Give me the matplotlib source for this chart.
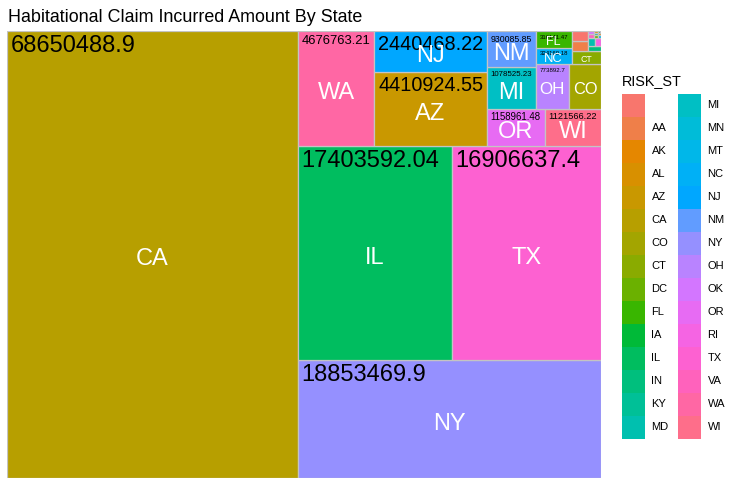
import numpy as np
import matplotlib
matplotlib.use("Agg")
import matplotlib.pyplot as plt
from matplotlib.patches import Rectangle

plt.rcParams['font.family'] = ['Liberation Sans', 'DejaVu Sans']

# ---------------- data ----------------
title = "Habitational Claim Incurred Amount By State"
legend_title = "RISK_ST"

levels = ["", "AA", "AK", "AL", "AZ", "CA", "CO", "CT", "DC", "FL", "IA", "IL",
          "IN", "KY", "MD", "MI", "MN", "MT", "NC", "NJ", "NM", "NY", "OH", "OK",
          "OR", "RI", "TX", "VA", "WA", "WI"]

states = ["CA", "NY", "IL", "TX", "WA", "AZ", "NJ", "OR", "WI", "MI", "NM", "OH",
          "CO", "NC", "FL", "CT", "AA", "", "IN", "MD", "RI", "VA", "OK", "DC",
          "MT", "KY", "AL", "AK", "IA", "MN"]
values = [68650488.9, 18853469.9, 17403592.04, 16906637.4, 4676763.21, 4410924.55,
          2440468.22, 1158961.48, 1121566.22, 1078525.23, 930085.85, 773892.7,
          751402.36, 324160.18, 316141.47, 214133.58, 88012.45, 84031.27, 33017.62,
          27512.9, 25008.31, 10004.5, 8002.75, 6001.2, 5003.4, 4501.6, 3502.8,
          3001.45, 2500.35, 1500.6]

# ---------------- helpers ----------------
def hcl(h, c=100.0, l=65.0):
    hr = np.deg2rad(h)
    U, V = c * np.cos(hr), c * np.sin(hr)
    Y = ((l + 16) / 116) ** 3
    un, vn = 0.1978398, 0.4683363
    u = U / (13 * l) + un
    v = V / (13 * l) + vn
    X = 9.0 * Y * u / (4 * v)
    Z = -X / 3 - 5 * Y + 3 * Y / v
    rgb = np.array([3.240479 * X - 1.537150 * Y - 0.498535 * Z,
                    -0.969256 * X + 1.875992 * Y + 0.041556 * Z,
                    0.055648 * X - 0.204043 * Y + 1.057311 * Z])
    rgb = np.where(rgb > 0.00304, 1.055 * np.abs(rgb) ** (1 / 2.4) - 0.055, 12.92 * rgb)
    return tuple(np.clip(rgb, 0, 1))

n = len(levels)
hues = np.linspace(15, 375, n + 1)[:-1]
palette = {lev: hcl(h) for lev, h in zip(levels, hues)}


def worst(row, side):
    s = sum(row)
    return max(side * side * max(row) / (s * s), (s * s) / (side * side * min(row)))


def squarify(vals, x, y, w, h):
    tot = sum(vals)
    vals = [v / tot * w * h for v in vals]
    rects = []
    while vals:
        side = min(w, h)
        row = [vals[0]]
        i = 1
        while i < len(vals) and worst(row + [vals[i]], side) <= worst(row, side):
            row.append(vals[i])
            i += 1
        vals = vals[i:]
        s = sum(row)
        if w >= h:
            cw = s / h
            yy = y
            for v in row:
                rh = v / cw
                rects.append((x, yy, cw, rh))
                yy += rh
            x += cw
            w -= cw
        else:
            rh = s / w
            xx = x
            for v in row:
                rw = v / rh
                rects.append((xx, y, rw, rh))
                xx += rw
            y += rh
            h -= rh
    return rects


def fmt(v):
    return ('%.2f' % v).rstrip('0').rstrip('.')

# ---------------- figure ----------------
W, H, DPI = 741, 486, 100
fig = plt.figure(figsize=(W / DPI, H / DPI), dpi=DPI)
pl, pr, pt, pb = 7, 601, 31, 478
ax = fig.add_axes([pl / W, 1 - pb / H, (pr - pl) / W, (pb - pt) / H])
ax.set_xlim(0, 1)
ax.set_ylim(0, 1)
ax.axis('off')

order = np.argsort(-np.array(values), kind='stable')
s_states = [states[i] for i in order]
s_vals = [values[i] for i in order]
rects = squarify(s_vals, 0.0, 0.0, 1.0, 1.0)

for st, (x, y, w, h) in zip(s_states, rects):
    ax.add_patch(Rectangle((x, y), w, h, facecolor=palette[st],
                           edgecolor='#C4C4C4', linewidth=0.9))

renderer = fig.canvas.get_renderer()
BASE = 17.0
PAD = 3.8
MINPX = 5.3


def text_w(s, fs):
    t = fig.text(0, 0, s, fontsize=fs)
    bb = t.get_window_extent(renderer)
    t.remove()
    return bb.width


def fit(s, wpx, hpx):
    if not s:
        return None
    aw, ah = wpx - 2 * PAD, hpx - 2 * PAD
    if aw <= 0 or ah <= 0:
        return None
    wb = text_w(s, BASE)
    hb = 0.716 * BASE * DPI / 72
    k = min(1.0, aw / wb, ah / hb)
    fs = BASE * k
    if fs * DPI / 72 < MINPX:
        return None
    return fs

pad_pt = PAD * 72 / DPI
for st, v, (x, y, w, h) in zip(s_states, s_vals, rects):
    wpx = w * (pr - pl)
    hpx = h * (pb - pt)
    lab = fmt(v)
    fs = fit(lab, wpx, hpx)
    if fs:
        ax.annotate(lab, xy=(x, y + h), xytext=(pad_pt, -pad_pt),
                    textcoords='offset points', ha='left', va='top',
                    fontsize=fs, color='black')
    fs2 = fit(st, wpx, hpx)
    if fs2:
        ax.annotate(st, xy=(x + w / 2, y + h / 2), xytext=(0, -0.455 * fs2),
                    textcoords='offset points', ha='center', va='baseline',
                    fontsize=fs2, color='white')

# title
fig.text(8 / W, 1 - 22.5 / H, title, fontsize=12.85, ha='left', va='baseline')

# legend
fig.text(622 / W, 1 - 81 / H, legend_title, fontsize=10.4, ha='left', va='center')
key_w, key_h = 23, 23
top0 = 93.7
for i, lev in enumerate(levels):
    col, r = divmod(i, 15)
    x0 = 622 + col * 56
    y0 = top0 + r * key_h
    fig.add_artist(Rectangle((x0 / W, 1 - (y0 + key_h) / H), key_w / W, key_h / H,
                             transform=fig.transFigure, facecolor=palette[lev],
                             edgecolor='none'))
    fig.text((x0 + 29.5) / W, 1 - (y0 + key_h / 2) / H, lev, fontsize=8.0,
             ha='left', va='center')

fig.savefig('out.png', dpi=DPI)
